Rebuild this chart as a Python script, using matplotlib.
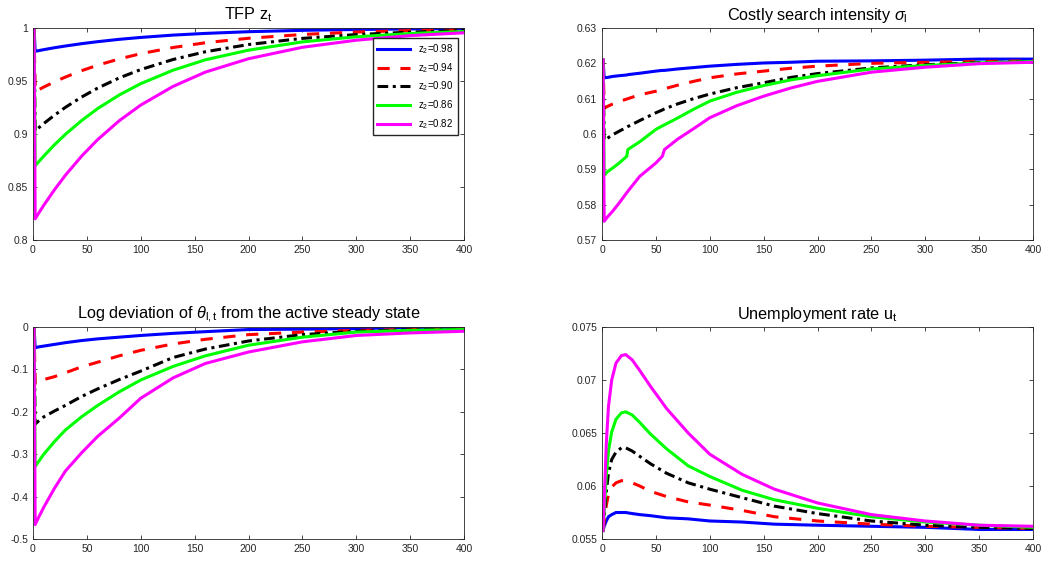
import matplotlib
matplotlib.use("Agg")
import matplotlib.pyplot as plt
from matplotlib.ticker import FuncFormatter, MultipleLocator

plt.rcParams.update({
    "font.family": "Liberation Sans", "font.size": 7.5,
    "mathtext.fontset": "custom", "mathtext.rm": "Liberation Sans",
    "mathtext.it": "Liberation Sans:italic",
    "axes.unicode_minus": False, "axes.linewidth": 0.6, "axes.edgecolor": "#262626",
    "xtick.direction": "in", "ytick.direction": "in",
    "xtick.top": True, "ytick.right": True,
    "xtick.major.size": 3, "ytick.major.size": 3,
    "xtick.major.width": 0.6, "ytick.major.width": 0.6,
    "xtick.color": "#262626", "ytick.color": "#262626",
})

LABELS = ["z$_2$=0.98", "z$_2$=0.94", "z$_2$=0.90", "z$_2$=0.86", "z$_2$=0.82"]
COLORS = ["#0000ff", "#ff0000", "#000000", "#00ff00", "#ff00ff"]
DASHES = [None, (4, 3.5), (3.5, 1.5, 1, 1.5), None, None]

# TFP z_t
T_Z = [1, 2, 5, 10, 20, 30, 45, 60, 80, 100, 130, 160, 200, 250, 300, 350, 400]
Z = [
    [1, .978, .9786, .9796, .9814, .9830, .9852, .9871, .9893, .9911, .9933, .9949, .9965, .9978, .9986, .9991, .9994],
    [1, .940, .9416, .9443, .9492, .9537, .9597, .9649, .9708, .9758, .9816, .9861, .9903, .9939, .9962, .9976, .9985],
    [1, .903, .9056, .9099, .9178, .9251, .9348, .9433, .9529, .9608, .9703, .9776, .9844, .9902, .9938, .9961, .9976],
    [1, .870, .8735, .8792, .8899, .8996, .9126, .9240, .9368, .9475, .9602, .9700, .9791, .9869, .9917, .9948, .9967],
    [1, .820, .8249, .8328, .8475, .8610, .8790, .8947, .9125, .9273, .9449, .9584, .9710, .9818, .9885, .9928, .9955],
]

# costly search intensity sigma_l
T_S = [1, 2, 5, 10, 16, 23, 24, 35, 50, 56, 58, 70, 85, 100, 125, 150, 175, 200, 250, 300, 350, 400]
SIG = [
    [.621, .6159, .6160, .6163, .6165, .6167, .6168, .6172, .6178, .6180, .6180, .6184, .6188, .6192, .6197, .6201, .6203, .6206, .6207, .6209, .6212, .6212],
    [.621, .6073, .6078, .6085, .6092, .6099, .6100, .6111, .6121, .6126, .6128, .6138, .6149, .6159, .6170, .6178, .6186, .6192, .6200, .6203, .6205, .6207],
    [.621, .5983, .5988, .5998, .6008, .6019, .6021, .6038, .6060, .6068, .6071, .6085, .6100, .6113, .6131, .6145, .6160, .6171, .6187, .6196, .6202, .6205],
    [.621, .5883, .5893, .5904, .5918, .5937, .5956, .5978, .6013, .6023, .6026, .6045, .6070, .6093, .6118, .6137, .6153, .6165, .6184, .6194, .6201, .6205],
    [.621, .5753, .5765, .5782, .5805, .5834, .5838, .5880, .5918, .5937, .5956, .5985, .6015, .6046, .6080, .6107, .6130, .6149, .6175, .6189, .6199, .6203],
]

# log deviation of theta_l,t
T_TH = [1, 2, 5, 10, 20, 30, 45, 60, 80, 100, 130, 160, 200, 250, 300, 350, 400]
TH = [
    [0, -.049, -.047, -.045, -.041, -.037, -.032, -.028, -.024, -.020, -.015, -.011, -.006, -.005, -.004, -.001, -.001],
    [0, -.135, -.130, -.124, -.117, -.108, -.094, -.083, -.068, -.055, -.040, -.029, -.018, -.012, -.008, -.006, -.004],
    [0, -.229, -.222, -.212, -.198, -.185, -.164, -.146, -.124, -.104, -.072, -.052, -.033, -.018, -.010, -.007, -.005],
    [0, -.329, -.318, -.300, -.270, -.243, -.212, -.185, -.153, -.125, -.093, -.068, -.043, -.024, -.012, -.008, -.006],
    [0, -.466, -.450, -.425, -.380, -.340, -.297, -.258, -.215, -.168, -.120, -.086, -.059, -.035, -.020, -.014, -.010],
]

# unemployment rate u_t
T_U = [1, 2, 4, 6, 9, 13, 18, 22, 28, 35, 45, 60, 80, 100, 130, 160, 200, 250, 300, 350, 400]
U = [
    [.0558, .0562, .0567, .0571, .0573, .0575, .0575, .0575, .0574, .0573, .0572, .0570, .0569, .0567, .0566, .0564, .0563, .0562, .0561, .0559, .0559],
    [.0558, .0565, .0582, .0592, .0599, .0603, .0605, .0605, .0603, .0600, .0595, .0590, .0585, .0582, .0577, .0571, .0567, .0564, .0562, .0561, .0560],
    [.0558, .0570, .0595, .0612, .0625, .0632, .0636, .0636, .0633, .0628, .0621, .0612, .0603, .0597, .0589, .0581, .0574, .0567, .0563, .0561, .0560],
    [.0558, .0575, .0610, .0633, .0651, .0663, .0669, .0670, .0667, .0660, .0649, .0635, .0619, .0609, .0596, .0587, .0579, .0571, .0566, .0563, .0561],
    [.0558, .0585, .0640, .0675, .0700, .0716, .0723, .0724, .0719, .0709, .0694, .0673, .0650, .0630, .0611, .0597, .0584, .0573, .0567, .0563, .0562],
]

fig = plt.figure(figsize=(10.42, 5.62), dpi=100)
W, H = 431 / 1042, 212 / 562
L1, L2 = 33 / 1042, 602 / 1042
B1, B2 = 322 / 562, 23 / 562

panels = [
    ((L1, B1), T_Z, Z, "TFP z$_\\mathregular{t}$", (0.8, 1.0), 0.05),
    ((L2, B1), T_S, SIG, "Costly search intensity $\\sigma_\\mathregular{l}$", (0.57, 0.63), 0.01),
    ((L1, B2), T_TH, TH, "Log deviation of $\\theta_\\mathregular{l,t}$ from the active steady state", (-0.5, 0.0), 0.1),
    ((L2, B2), T_U, U, "Unemployment rate u$_\\mathregular{t}$", (0.055, 0.075), 0.005),
]

fmt = FuncFormatter(lambda v, p: "%g" % round(v, 6))
for (l, b), t, series, title, ylim, ystep in panels:
    ax = fig.add_axes([l, b, W, H])
    for ys, c, d, lab in zip(series, COLORS, DASHES, LABELS):
        ln, = ax.plot(t, ys, color=c, lw=2.2, label=lab)
        if d:
            ln.set_dashes(d)
    ax.set_xlim(0, 400)
    ax.set_ylim(*ylim)
    ax.xaxis.set_major_locator(MultipleLocator(50))
    ax.yaxis.set_major_locator(MultipleLocator(ystep))
    ax.yaxis.set_major_formatter(fmt)
    ax.set_title(title, fontsize=11.7, pad=6)
    if t is T_Z:
        ax.legend(loc="upper right", bbox_to_anchor=(0.986, 0.953), borderaxespad=0,
                  fontsize=7, handlelength=3.4, labelspacing=0.5, borderpad=0.45,
                  fancybox=False, edgecolor="#262626", framealpha=1)

fig.savefig("out.png", dpi=100)
